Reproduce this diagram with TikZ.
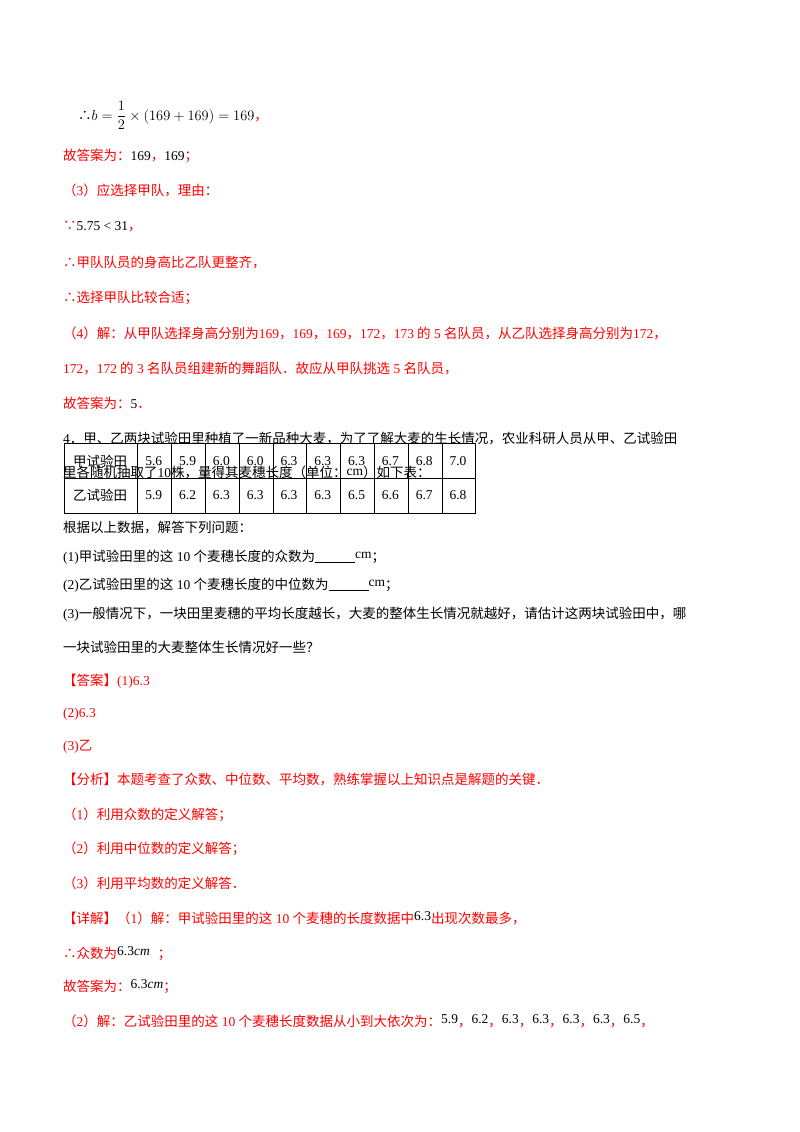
\documentclass[tikz,border=0pt]{standalone}
\usepackage{fontspec}
\setmainfont{Noto Sans CJK SC}
\newfontfamily\latf{Liberation Serif}
\newcommand{\nm}[1]{{\latf #1}}
\begin{document}
\begin{tikzpicture}[x=1pt,y=1pt,
  ln/.style={anchor=base west,inner sep=0pt,font=\fontsize{13.5}{16}\selectfont},
  rd/.style={ln,text=red},
  cell/.style={anchor=center,inner sep=0pt,font=\fontsize{13.5}{16}\selectfont}]
\fill[white] (0,0) rectangle (800,-1132);
\path[use as bounding box] (0,0) rectangle (800,-1132);
\node[ln] (l1) at (78,-120) {∴$b=\displaystyle\frac{1}{2}\times\left(169+169\right)=169$\textcolor{red}{，}};
\node[rd] (l2) at (63,-160) {故答案为：\textcolor{black}{\nm{169}}，\textcolor{black}{\nm{169}}；};
\node[rd] (l3) at (63,-195) {（\nm{3}）应选择甲队，理由：};
\node[rd] (l4) at (63,-230) {∵\textcolor{black}{\nm{5.75 < 31}}，};
\node[rd] (l5) at (63,-267) {∴甲队队员的身高比乙队更整齐，};
\node[rd] (l6) at (63,-302) {∴选择甲队比较合适；};
\node[rd] (l7) at (63,-338) {（\nm{4}）解：从甲队选择身高分别为\nm{169}，\nm{169}，\nm{169}，\nm{172}，\nm{173} 的\nm{ 5 }名队员，从乙队选择身高分别为\nm{172}，};
\node[rd] (l8) at (63,-373) {\nm{172}，\nm{172} 的\nm{ 3 }名队员组建新的舞蹈队．故应从甲队挑选\nm{ 5 }名队员，};
\node[rd] (l9) at (63,-408) {故答案为：\textcolor{black}{\nm{5}}．};
\node[ln] (l10) at (63,-443) {\nm{4}．甲、乙两块试验田里种植了一新品种大麦，为了了解大麦的生长情况，农业科研人员从甲、乙试验田};
\node[ln] (l11) at (63,-477) {里各随机抽取了\nm{10}株，量得其麦穗长度（单位：\raisebox{2pt}{\nm{cm}}）如下表：};
% table
\draw[line width=0.9pt] (64,-443) rectangle (475,-513);
\draw[line width=0.9pt] (64,-478) -- (475,-478);
\foreach \x in {137,171,205,239,273,306,340,374,408,442}
  \draw[line width=0.9pt] (\x,-443) -- (\x,-513);
\node[cell] (h1) at (100,-461) {甲试验田};
\node[cell] (h2) at (100,-495) {乙试验田};
\foreach \v [count=\i] in {5.6,5.9,6.0,6.0,6.3,6.3,6.3,6.7,6.8,7.0}
  \node[cell,font=\latf\fontsize{13.5}{16}\selectfont] (a\i) at ({137+34*(\i-0.5)-0.2*\i},-461) {\v};
\foreach \v [count=\i] in {5.9,6.2,6.3,6.3,6.3,6.3,6.5,6.6,6.7,6.8}
  \node[cell,font=\latf\fontsize{13.5}{16}\selectfont] (b\i) at ({137+34*(\i-0.5)-0.2*\i},-495) {\v};
\node[ln] (l12) at (63,-532) {根据以上数据，解答下列问题：};
\node[ln] (l13) at (63,-561) {\nm{(1)}甲试验田里的这\nm{ 10 }个麦穗长度的众数为\underline{\hspace{40pt}}\raisebox{3pt}{\nm{cm}}；};
\node[ln] (l14) at (63,-589) {\nm{(2)}乙试验田里的这\nm{ 10 }个麦穗长度的中位数为\underline{\hspace{40pt}}\raisebox{3pt}{\nm{cm}}；};
\node[ln] (l15) at (63,-618) {\nm{(3)}一般情况下，一块田里麦穗的平均长度越长，大麦的整体生长情况就越好，请估计这两块试验田中，哪};
\node[ln] (l16) at (63,-652) {一块试验田里的大麦整体生长情况好一些？};
\node[rd] (l17) at (63,-685) {【答案】\nm{(1)6.3}};
\node[rd] (l18) at (63,-717) {\nm{(2)6.3}};
\node[rd] (l19) at (63,-750) {\nm{(3)}乙};
\node[rd] (l20) at (63,-784) {【分析】本题考查了众数、中位数、平均数，熟练掌握以上知识点是解题的关键．};
\node[rd] (l21) at (63,-819) {（\nm{1}）利用众数的定义解答；};
\node[rd] (l22) at (63,-853) {（\nm{2}）利用中位数的定义解答；};
\node[rd] (l23) at (63,-888) {（\nm{3}）利用平均数的定义解答．};
\node[rd] (l24) at (63,-923) {【详解】（\nm{1}）解：甲试验田里的这\nm{ 10 }个麦穗的长度数据中\textcolor{black}{\raisebox{3pt}{\nm{6.3}}}出现次数最多，};
\node[rd] (l25) at (63,-958) {∴众数为\textcolor{black}{\raisebox{3pt}{\nm{6.3\textit{cm}}}}\hspace{8pt}；};
\node[rd] (l26) at (63,-991) {故答案为：\textcolor{black}{\raisebox{3pt}{\nm{6.3\textit{cm}}}}；};
\node[rd] (l27) at (63,-1026) {（\nm{2}）解：乙试验田里的这\nm{ 10 }个麦穗长度数据从小到大依次为：\textcolor{black}{\raisebox{3pt}{\nm{5.9}}}，\textcolor{black}{\raisebox{3pt}{\nm{6.2}}}，\textcolor{black}{\raisebox{3pt}{\nm{6.3}}}，\textcolor{black}{\raisebox{3pt}{\nm{6.3}}}，\textcolor{black}{\raisebox{3pt}{\nm{6.3}}}，\textcolor{black}{\raisebox{3pt}{\nm{6.3}}}，\textcolor{black}{\raisebox{3pt}{\nm{6.5}}}，};
\end{tikzpicture}
\end{document}
